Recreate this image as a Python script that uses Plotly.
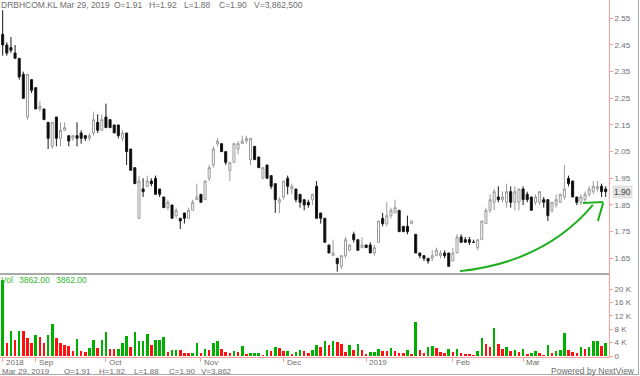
import plotly.graph_objects as go

# ---------------- data (DRBHCOM.KL daily, late Aug 2018 .. Mar 29 2019) ----------------
open_ = [2.49, 2.45, 2.44, 2.42, 2.40, 2.34, 2.18, 2.32, 2.29, 2.21,
         2.21, 2.16, 2.07, 2.18, 2.10, 2.13, 2.11, 2.10, 2.11, 2.12,
         2.11, 2.10, 2.12, 2.16, 2.13, 2.18, 2.17, 2.15, 2.15, 2.10,
         2.12, 2.06, 1.99, 1.80, 1.91, 1.92, 1.94, 1.95, 1.91, 1.88,
         1.84, 1.85, 1.81, 1.80, 1.82, 1.80, 1.83, 1.87, 1.89, 1.87,
         1.95, 2.00, 2.08, 2.08, 2.05, 1.98, 2.01, 2.06, 2.08, 2.09,
         2.02, 2.07, 2.03, 1.95, 2.00, 1.96, 1.93, 1.86, 1.88, 1.95,
         1.91, 1.91, 1.89, 1.87, 1.86, 1.87, 1.92, 1.82, 1.80, 1.70,
         1.66, 1.65, 1.62, 1.66, 1.68, 1.74, 1.72, 1.69, 1.70, 1.70,
         1.67, 1.71, 1.80, 1.78, 1.81, 1.82, 1.83, 1.77, 1.77, 1.78,
         1.74, 1.67, 1.66, 1.65, 1.65, 1.66, 1.66, 1.67, 1.67, 1.64,
         1.67, 1.73, 1.72, 1.72, 1.71, 1.69, 1.72, 1.78, 1.83, 1.86,
         1.88, 1.87, 1.86, 1.90, 1.86, 1.86, 1.91, 1.89, 1.88, 1.86,
         1.86, 1.87, 1.87, 1.83, 1.85, 1.86, 1.88, 1.95, 1.94, 1.88,
         1.86, 1.87, 1.89, 1.90, 1.91, 1.92, 1.91]
high = [2.58, 2.46, 2.48, 2.45, 2.40, 2.35, 2.34, 2.32, 2.29, 2.24,
        2.21, 2.16, 2.16, 2.18, 2.16, 2.16, 2.11, 2.11, 2.16, 2.13,
        2.11, 2.12, 2.20, 2.19, 2.19, 2.23, 2.17, 2.15, 2.15, 2.13,
        2.12, 2.06, 1.99, 1.96, 1.95, 1.96, 1.95, 1.96, 1.91, 1.88,
        1.87, 1.85, 1.84, 1.80, 1.82, 1.84, 1.87, 1.93, 1.89, 1.94,
        2.00, 2.07, 2.10, 2.08, 2.05, 2.01, 2.08, 2.09, 2.11, 2.11,
        2.10, 2.07, 2.03, 1.99, 2.00, 1.96, 1.93, 1.88, 1.94, 1.96,
        1.93, 1.91, 1.89, 1.87, 1.87, 1.89, 1.94, 1.82, 1.80, 1.70,
        1.72, 1.65, 1.66, 1.73, 1.70, 1.75, 1.72, 1.73, 1.70, 1.71,
        1.70, 1.79, 1.82, 1.86, 1.84, 1.87, 1.83, 1.77, 1.81, 1.79,
        1.74, 1.67, 1.66, 1.65, 1.68, 1.69, 1.68, 1.68, 1.67, 1.69,
        1.74, 1.74, 1.73, 1.73, 1.72, 1.72, 1.79, 1.84, 1.89, 1.91,
        1.92, 1.90, 1.93, 1.92, 1.92, 1.91, 1.92, 1.90, 1.88, 1.89,
        1.90, 1.88, 1.87, 1.86, 1.89, 1.89, 2.00, 1.96, 1.94, 1.88,
        1.89, 1.90, 1.92, 1.94, 1.94, 1.93, 1.92]
low = [2.41, 2.41, 2.42, 2.40, 2.32, 2.25, 2.17, 2.27, 2.21, 2.20,
       2.17, 2.06, 2.06, 2.07, 2.07, 2.13, 2.07, 2.09, 2.07, 2.08,
       2.09, 2.09, 2.11, 2.12, 2.13, 2.14, 2.14, 2.12, 2.10, 2.09,
       2.00, 1.98, 1.93, 1.80, 1.88, 1.92, 1.92, 1.89, 1.88, 1.84,
       1.83, 1.80, 1.80, 1.76, 1.78, 1.80, 1.83, 1.87, 1.86, 1.87,
       1.94, 1.99, 2.07, 2.05, 2.00, 1.94, 2.01, 2.04, 2.08, 2.08,
       2.00, 2.02, 1.99, 1.95, 1.95, 1.91, 1.82, 1.82, 1.87, 1.89,
       1.89, 1.86, 1.84, 1.83, 1.84, 1.85, 1.80, 1.78, 1.71, 1.67,
       1.66, 1.60, 1.61, 1.65, 1.68, 1.71, 1.68, 1.69, 1.69, 1.67,
       1.66, 1.71, 1.77, 1.77, 1.80, 1.82, 1.75, 1.75, 1.74, 1.78,
       1.67, 1.65, 1.64, 1.63, 1.64, 1.66, 1.65, 1.65, 1.62, 1.64,
       1.67, 1.71, 1.71, 1.70, 1.71, 1.68, 1.72, 1.78, 1.82, 1.83,
       1.86, 1.86, 1.84, 1.84, 1.83, 1.83, 1.85, 1.86, 1.83, 1.85,
       1.85, 1.84, 1.79, 1.82, 1.84, 1.86, 1.87, 1.92, 1.88, 1.85,
       1.85, 1.86, 1.88, 1.89, 1.90, 1.88, 1.88]
close = [2.45, 2.42, 2.43, 2.40, 2.33, 2.25, 2.34, 2.28, 2.21, 2.22,
         2.17, 2.10, 2.16, 2.10, 2.13, 2.14, 2.09, 2.11, 2.10, 2.10,
         2.10, 2.11, 2.17, 2.13, 2.17, 2.14, 2.14, 2.12, 2.11, 2.12,
         2.05, 1.98, 1.93, 1.94, 1.90, 1.94, 1.93, 1.89, 1.89, 1.84,
         1.86, 1.80, 1.83, 1.79, 1.80, 1.83, 1.86, 1.88, 1.86, 1.94,
         1.99, 2.06, 2.09, 2.05, 2.01, 2.01, 2.08, 2.08, 2.09, 2.10,
         2.10, 2.02, 1.99, 1.99, 1.95, 1.92, 1.87, 1.87, 1.94, 1.92,
         1.92, 1.87, 1.86, 1.85, 1.85, 1.89, 1.80, 1.80, 1.71, 1.67,
         1.67, 1.63, 1.66, 1.72, 1.70, 1.72, 1.68, 1.70, 1.69, 1.67,
         1.69, 1.79, 1.78, 1.81, 1.83, 1.84, 1.75, 1.75, 1.75, 1.79,
         1.67, 1.66, 1.65, 1.64, 1.66, 1.68, 1.67, 1.66, 1.62, 1.67,
         1.73, 1.71, 1.71, 1.71, 1.71, 1.72, 1.79, 1.83, 1.87, 1.90,
         1.87, 1.88, 1.90, 1.86, 1.90, 1.91, 1.87, 1.87, 1.83, 1.88,
         1.90, 1.86, 1.81, 1.86, 1.87, 1.89, 1.91, 1.93, 1.88, 1.86,
         1.88, 1.89, 1.91, 1.92, 1.92, 1.90, 1.90]
# volume in thousands of lots (axis shows K)
volume_k = [22.7, 3.8, 7.5, 4.8, 7.5, 7.5, 5.5, 4.0, 6.3, 5.8,
            3.8, 6.3, 9.5, 5.5, 4.0, 3.3, 3.0, 1.6, 5.0, 1.6,
            1.3, 2.3, 4.8, 2.5, 4.8, 7.1, 2.1, 2.1, 2.1, 4.0,
            6.1, 2.8, 7.3, 4.6, 4.6, 6.5, 3.2, 4.8, 4.8, 5.6,
            1.3, 1.7, 1.8, 1.8, 0.8, 0.8, 1.0, 3.8, 0.8, 2.1,
            1.8, 4.0, 4.6, 2.1, 1.1, 1.0, 1.5, 1.3, 3.0, 0.6,
            0.8, 0.9, 0.9, 0.3, 1.8, 1.5, 2.7, 2.5, 1.4, 1.5,
            0.6, 1.2, 1.7, 1.5, 1.0, 1.7, 3.2, 2.8, 4.6, 3.3,
            4.6, 4.3, 3.5, 1.3, 3.3, 1.8, 3.7, 1.7, 0.5, 1.2,
            1.2, 2.0, 1.5, 1.5, 2.3, 1.4, 0.8, 0.9, 1.8, 0.7,
            10.2, 1.7, 0.8, 2.7, 3.0, 2.5, 1.2, 0.8, 2.1, 1.3,
            2.1, 0.8, 0.6, 0.6, 0.4, 1.5, 5.4, 3.6, 2.8, 8.5,
            3.6, 2.1, 2.6, 1.6, 1.8, 1.3, 2.1, 0.6, 1.0, 1.6,
            1.0, 0.4, 3.3, 0.8, 1.5, 1.7, 6.8, 1.7, 1.2, 1.0,
            2.6, 2.0, 2.6, 4.5, 4.6, 3.1, 3.862]
# volume bar direction as drawn (G = up, R = down)
volume_dir = ("GRGRGRRRGR" "RGGRRRRRGR" "RGGRGGRRGG" "GRGGGGRGGG" "RGGRRRGGRG"
              "RGGRRRGRGR" "GGGRGRGRRG" "RGGRRGGRGR" "GRRRGRGRRG" "GGRRGRRRGR"
              "GRRGGRRRGR" "GRRRRGGRRG" "RRGRGRGRGG" "RRGRGGGRRR" "GRGGGRG")
month_start_idx = [0, 8, 25, 48, 68, 88, 109, 126]
month_labels = ["2018", "Sep", "Oct", "Nov", "Dec", "2019", "Feb", "Mar"]
price_ticks = [1.65, 1.75, 1.85, 1.95, 2.05, 2.15, 2.25, 2.35, 2.45, 2.55]
vol_ticks = [0, 4, 8, 12, 16, 20]
symbol = "DRBHCOM.KL"
last_date = "Mar 29, 2019"
last_volume_shares = 3862500

# ---------------- figure ----------------
W, H = 640, 376
ML, MR, MT, MB = 0, 31, 0, 19
PW, PH = W - ML - MR, H - MT - MB
SPLIT = (357 - 274) / PH          # volume panel height fraction

def pxx(px):
    return (px - ML) / PW

def pxy(py):
    return (PH + MT - py) / PH

pink = "#ff9c9c"
grey_txt = "#6e6e6e"
FONT = "Liberation Sans, Arial, sans-serif"

n = len(close)
idx = list(range(n))
bar_colors = ["#00b000" if d == "G" else "#ff1010" for d in volume_dir]

fig = go.Figure()
fig.add_trace(go.Bar(
    x=idx, y=volume_k, marker=dict(color=bar_colors, line=dict(width=0)),
    width=0.62, xaxis="x", yaxis="y2", hoverinfo="skip"))
fig.add_trace(go.Candlestick(
    x=idx, open=open_, high=high, low=low, close=close,
    increasing=dict(line=dict(color="#9a9a9a", width=1), fillcolor="white"),
    decreasing=dict(line=dict(color="#1a1a1a", width=1), fillcolor="black"),
    whiskerwidth=0, xaxis="x", yaxis="y", hoverinfo="skip"))

fig.update_layout(
    width=W, height=H, margin=dict(l=ML, r=MR, t=MT, b=MB),
    paper_bgcolor="white", plot_bgcolor="white", showlegend=False,
    font=dict(family=FONT, size=8, color=grey_txt),
    bargap=0,
    xaxis=dict(domain=[0, 1], range=[-0.65, 146.8], anchor="y2",
               showgrid=False, zeroline=False, showline=True, linecolor=pink,
               linewidth=1, ticks="outside", ticklen=4, tickcolor=pink,
               tickvals=month_start_idx, showticklabels=False,
               rangeslider=dict(visible=False), fixedrange=True),
    yaxis=dict(domain=[SPLIT, 1], range=[1.5912, 2.6186], side="right",
               anchor="x", showgrid=False, zeroline=False, showline=True,
               linecolor=pink, linewidth=1, ticks="outside", ticklen=3,
               tickcolor=pink, tickvals=price_ticks,
               ticktext=[f"{v:.2f}" for v in price_ticks],
               tickfont=dict(size=8, color=grey_txt), fixedrange=True),
    yaxis2=dict(domain=[0, SPLIT], range=[-0.3, 24.5], side="right",
                anchor="x", showgrid=False, zeroline=False, showline=True,
                linecolor=pink, linewidth=1, ticks="outside", ticklen=3,
                tickcolor=pink, tickvals=vol_ticks,
                ticktext=["0" if v == 0 else f"{v} K" for v in vol_ticks],
                tickfont=dict(size=8, color=grey_txt), fixedrange=True),
)

# separator between price and volume panels, frame lines
fig.add_shape(type="line", xref="paper", yref="paper", x0=0, x1=1, y0=SPLIT, y1=SPLIT,
              line=dict(color="#555555", width=1))
fig.add_shape(type="line", xref="paper", yref="paper", x0=pxx(638.5), x1=pxx(638.5),
              y0=pxy(0), y1=pxy(375), line=dict(color="#aaaaaa", width=1))
fig.add_shape(type="line", xref="paper", yref="paper", x0=pxx(0), x1=pxx(639),
              y0=pxy(374.5), y1=pxy(374.5), line=dict(color="#aaaaaa", width=1))

# green hand-drawn arrow annotation (candle index, price)
green = "#1fae1f"
fig.add_shape(type="path", xref="x", yref="y",
              path="M 110.7,1.602 Q 131.3,1.636 142.9,1.850",
              line=dict(color=green, width=2))
fig.add_shape(type="path", xref="x", yref="y",
              path="M 140.5,1.857 L 145.4,1.861",
              line=dict(color=green, width=2))
fig.add_shape(type="path", xref="x", yref="y",
              path="M 144.1,1.790 L 145.4,1.858",
              line=dict(color=green, width=2))

# month labels (left aligned at tick)
for i, lab in zip(month_start_idx, month_labels):
    fig.add_annotation(x=i, xref="x", y=pxy(362), yref="paper", text=lab,
                       showarrow=False, xanchor="left", yanchor="middle", xshift=1,
                       font=dict(size=8, color=grey_txt, family=FONT))

lo, hi, lw, cl = open_[-1], high[-1], low[-1], close[-1]
# header
head = [(0, f"{symbol} {last_date}"), (113, f"O={lo:.2f}"), (148, f"H={hi:.2f}"),
        (183, f"L={lw:.2f}"), (218, f"C={cl:.2f}"), (253, f"V={last_volume_shares:,}")]
for px, t in head:
    fig.add_annotation(x=pxx(px), xref="paper", y=pxy(5.5), yref="paper", text=t,
                       showarrow=False, xanchor="left", yanchor="middle", xshift=-1,
                       font=dict(size=8.5, color=grey_txt, family=FONT))
# footer
foot = [(1, last_date), (63, f"O={lo:.2f}"), (98, f"H={hi:.2f}"), (133, f"L={lw:.2f}"),
        (168, f"C={cl:.2f}"), (200, f"V={round(volume_k[-1]*1000):,}")]
for px, t in foot:
    fig.add_annotation(x=pxx(px), xref="paper", y=pxy(371), yref="paper", text=t,
                       showarrow=False, xanchor="left", yanchor="middle", xshift=-1,
                       font=dict(size=8, color=grey_txt, family=FONT))
fig.add_annotation(x=pxx(637), xref="paper", y=pxy(370.5), yref="paper",
                   text="Powered by NextView", showarrow=False, xanchor="right",
                   yanchor="middle", font=dict(size=8.5, color=grey_txt, family=FONT))
# volume label
vtxt = f"{volume_k[-1]*1000:.2f}"
for px, t in [(0, "Vol"), (18, vtxt), (55, vtxt)]:
    fig.add_annotation(x=pxx(px), xref="paper", y=pxy(280), yref="paper", text=t,
                       showarrow=False, xanchor="left", yanchor="middle", xshift=-1,
                       font=dict(size=8.5, color="#33b833", family=FONT))
# last price marker on the axis
fig.add_annotation(x=pxx(612), xref="paper", y=cl, yref="y", text=f"{cl:.2f}",
                   showarrow=False, xanchor="left", yanchor="middle",
                   bgcolor="#e2e2e2", borderpad=1,
                   font=dict(size=8.5, color="#444444", family=FONT))

fig.write_html(
    "out.html",
    config={"displayModeBar": False, "staticPlot": True},
    post_script="document.body.style.margin='0px';document.body.style.padding='0px';"
                "document.body.style.overflow='hidden';")
